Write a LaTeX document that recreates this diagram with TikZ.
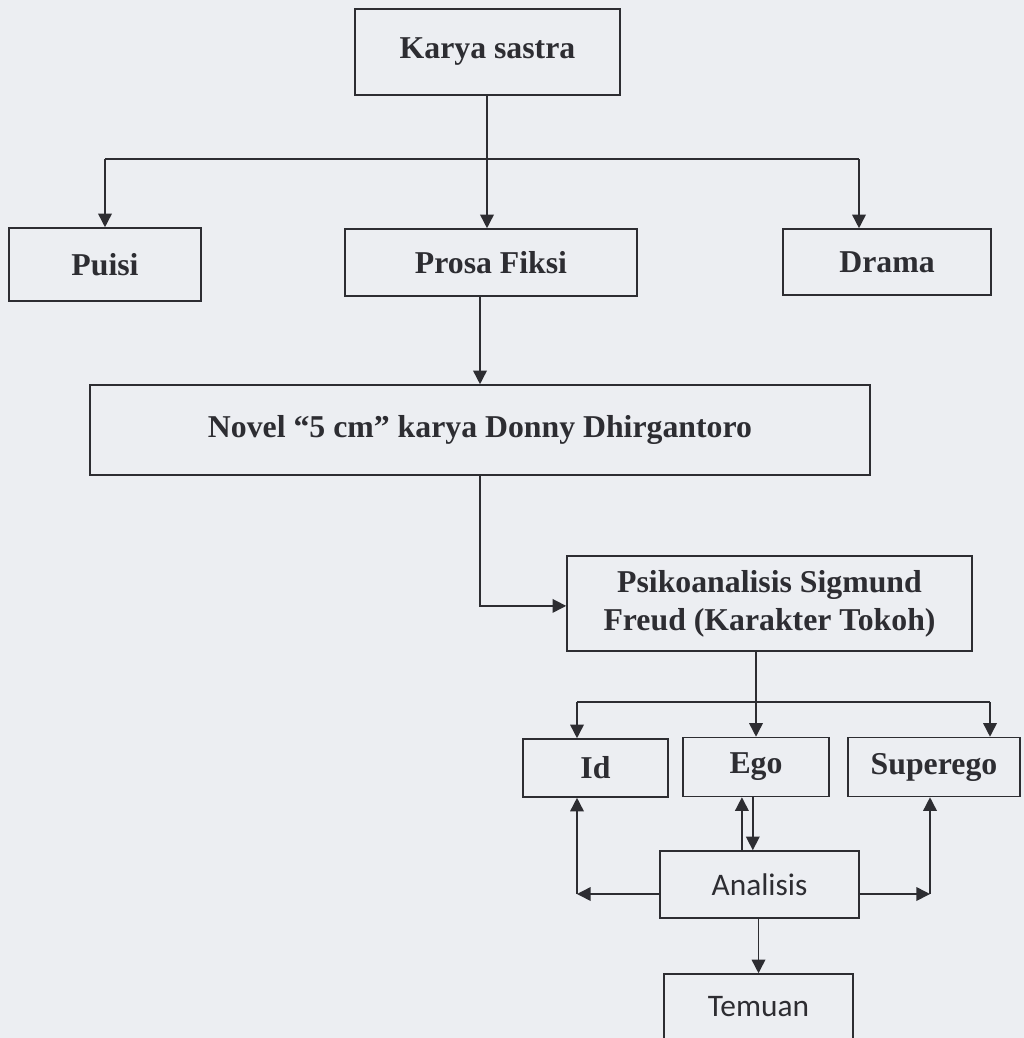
\documentclass[tikz,border=0pt]{standalone}
\usepackage{fontspec}
\setmainfont{Liberation Serif}
\newfontfamily\carli{Carlito}
\usetikzlibrary{arrows.meta}
\definecolor{kertas}{RGB}{236,238,242}
\definecolor{tinta}{RGB}{45,45,50}
\begin{document}
\begin{tikzpicture}[x=0.025cm, y=-0.025cm]
			\tikzset{kotak/.style={rectangle, draw=tinta, line width=1.1pt, text=tinta, text centered, align=center, font=\fontsize{22.6}{27}\selectfont\bfseries},
			kotaksans/.style={kotak, font=\carli\fontsize{22.3}{26}\selectfont},
			panah/.style={->, line width=1.1pt, draw=tinta, >={Triangle[length=3.4mm, width=3.4mm]}},
			garis/.style={line width=1.1pt, draw=tinta}};
			\fill[kertas] (0,0) rectangle (1024,1038);
			\useasboundingbox (0,0) rectangle (1024,1038);

			\node[kotak, minimum width=6.625cm, minimum height=2.15cm] (karya) at (487.5, 52) {Karya sastra};
			\node[kotak, minimum width=4.8cm, minimum height=1.825cm] (puisi) at (105, 264.5) {Puisi};
			\node[kotak, minimum width=7.3cm, minimum height=1.675cm] (prosa) at (491, 262.5) {Prosa Fiksi};
			\node[kotak, minimum width=5.2cm, minimum height=1.65cm] (drama) at (887, 262) {Drama};
			\node[kotak, minimum width=19.5cm, minimum height=2.25cm] (novel) at (480, 430) {Novel “5 cm” karya Donny Dhirgantoro};
			\node[kotak, minimum width=10.125cm, minimum height=2.375cm] (psiko) at (769.5, 603.5) {Psikoanalisis Sigmund\\Freud (Karakter Tokoh)};
			\node[kotak, minimum width=3.625cm, minimum height=1.45cm] (id) at (595.5, 768) {Id};
			\node[kotak, minimum width=3.65cm, minimum height=1.475cm] (ego) at (756, 767) {Ego};
			\node[kotak, minimum width=4.3cm, minimum height=1.475cm] (superego) at (934, 767) {Superego};
			\node[kotaksans, minimum width=4.975cm, minimum height=1.675cm] (analisis) at (759.5, 884.5) {Analisis};
			\node[kotaksans, minimum width=4.725cm, minimum height=1.65cm] (temuan) at (758.5, 1007) {Temuan};

			\coordinate (kt) at (487, 159);
			\coordinate (kl) at (105, 159);
			\coordinate (kr) at (859, 159);
			\coordinate (il) at (577, 702);
			\coordinate (ir) at (990, 702);
			\coordinate (al) at (577, 894);
			\coordinate (ar) at (930, 894);

			\draw[garis] (karya.south -| kt) -- (kt);
			\draw[garis] (kl) -- (kr);
			\draw[panah] (kl) -- (puisi.north);
			\draw[panah] (kt) -- (kt |- prosa.north);
			\draw[panah] (kr) -- (kr |- drama.north);

			\draw[panah] (prosa.south -| novel.north) -- (novel.north);
			\draw[panah] (novel.south) |- ([yshift=-0.06cm]psiko.west);

			\draw[panah] (psiko.south -| ego.north) -- (ego.north);
			\draw[garis] (il) -- (ir);
			\draw[panah] (il) -- (il |- id.north);
			\draw[panah] (ir) -- (ir |- superego.north);

			\draw[panah] ([xshift=-0.44cm]analisis.north) -- ([xshift=-0.44cm]analisis.north |- ego.south);
			\draw[panah] ([xshift=-0.08cm]ego.south) -- ([xshift=-0.08cm]ego.south |- analisis.north);
			\draw[panah] (al -| analisis.west) -- (al);
			\draw[panah] (al) -- (al |- id.south);
			\draw[panah] (ar -| analisis.east) -- (ar);
			\draw[panah] (ar) -- (ar |- superego.south);
			\draw[panah] (analisis.south -| temuan.north) -- (temuan.north);
		\end{tikzpicture}
\end{document}
